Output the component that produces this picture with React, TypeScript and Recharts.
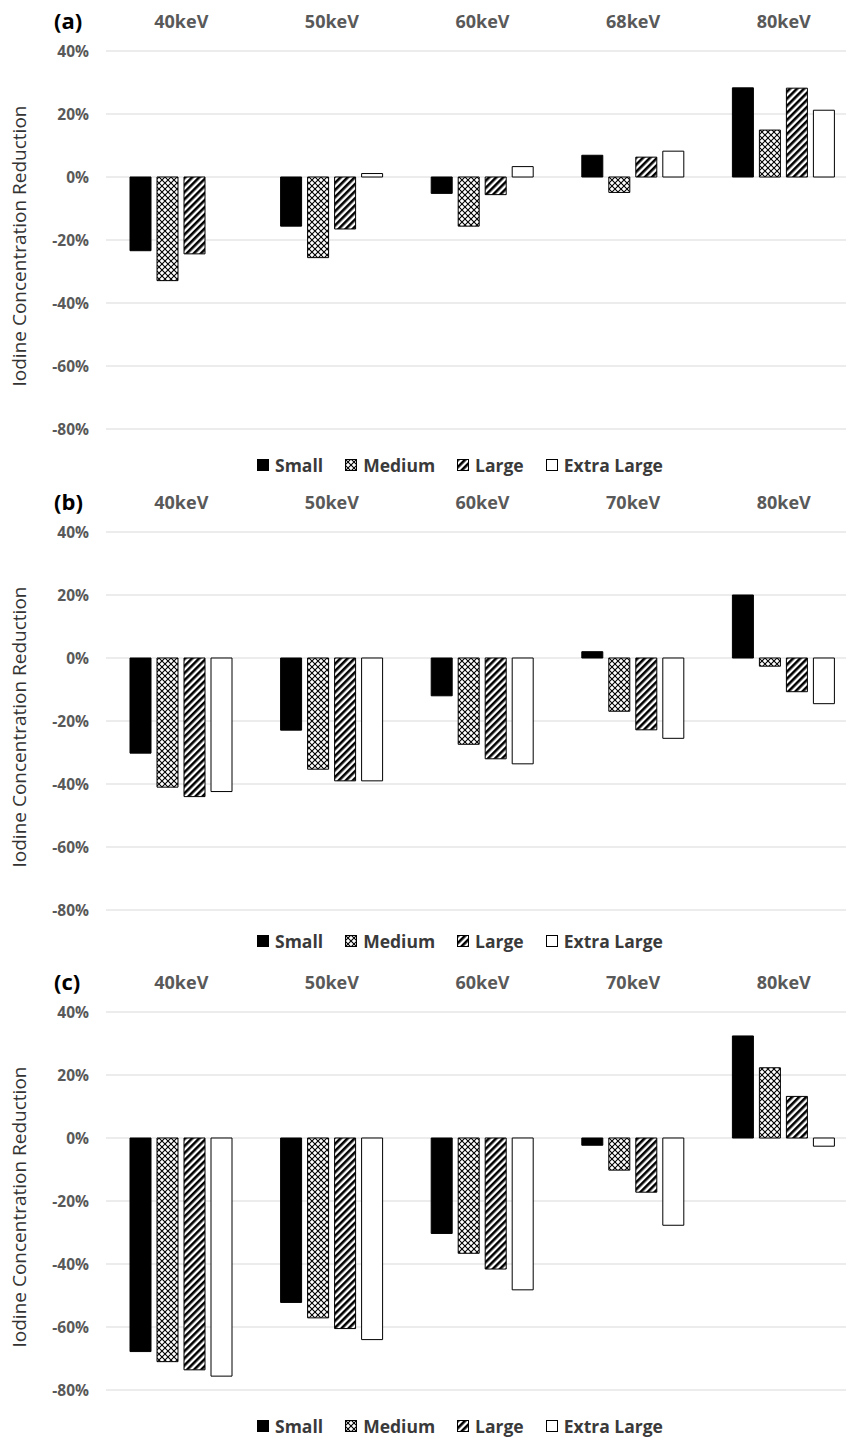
import { Bar, BarChart, CartesianGrid, XAxis, YAxis } from "recharts";

const CATEGORIES_A = ["40keV", "50keV", "60keV", "68keV", "80keV"];
const CATEGORIES_BC = ["40keV", "50keV", "60keV", "70keV", "80keV"];

const SMALL_A = [-23.4, -15.6, -5.2, 6.9, 28.3];
const MEDIUM_A = [-32.9, -25.6, -15.6, -4.9, 14.9];
const LARGE_A = [-24.4, -16.5, -5.6, 6.3, 28.2];
const XL_A = [null, 1.1, 3.3, 8.2, 21.2];

const SMALL_B = [-30.2, -22.9, -12.0, 2.0, 20.0];
const MEDIUM_B = [-41.0, -35.3, -27.4, -16.9, -2.6];
const LARGE_B = [-44.0, -39.0, -32.0, -22.8, -10.7];
const XL_B = [-42.4, -39.0, -33.6, -25.5, -14.5];

const SMALL_C = [-67.8, -52.2, -30.3, -2.3, 32.4];
const MEDIUM_C = [-71.0, -57.1, -36.6, -10.2, 22.3];
const LARGE_C = [-73.6, -60.5, -41.6, -17.2, 13.2];
const XL_C = [-75.6, -64.0, -48.2, -27.7, -2.6];

const Y_TICKS = [-80, -60, -40, -20, 0, 20, 40];
const SERIES = ["Small", "Medium", "Large", "Extra Large"];

const FONT = '"Open Sans", sans-serif';
const tickStyle = { fill: "#595959", fontSize: 15.5, fontWeight: 700, fontFamily: FONT };
const catStyle = { fill: "#595959", fontSize: 18, fontWeight: 700, fontFamily: FONT };

function Patterns({ id }: { id: string }) {
  return (
    <defs>
      <pattern id={`${id}-med`} width={6} height={6} patternUnits="userSpaceOnUse">
        <rect width={6} height={6} fill="#fff" />
        <path d="M0,0 L6,6 M6,0 L0,6" stroke="#000" strokeWidth={1.1} />
      </pattern>
      <pattern id={`${id}-lrg`} width={5} height={5} patternUnits="userSpaceOnUse" patternTransform="rotate(45)">
        <rect width={5} height={5} fill="#fff" />
        <rect width={2.6} height={5} fill="#000" />
      </pattern>
    </defs>
  );
}

function LegendRow({ id, top }: { id: string; top: number }) {
  const fills = ["#000", `url(#${id}-med)`, `url(#${id}-lrg)`, "#fff"];
  return (
    <div
      style={{
        position: "absolute",
        top,
        left: 0,
        width: 846,
        paddingLeft: 74,
        boxSizing: "border-box",
        display: "flex",
        justifyContent: "center",
        gap: 22,
        fontFamily: FONT,
        fontWeight: 700,
        fontSize: 17.5,
        lineHeight: "22px",
        color: "#3a3a3a",
      }}
    >
      {SERIES.map((s, i) => (
        <div key={s} style={{ display: "flex", alignItems: "center", gap: 6 }}>
          <svg width={12} height={12}>
            <rect x={0.5} y={0.5} width={11} height={11} fill={fills[i]} stroke="#000" strokeWidth={1} />
          </svg>
          <span>{s}</span>
        </div>
      ))}
    </div>
  );
}

function Panel({
  id,
  tag,
  top,
  legendTop,
  categories,
  small,
  medium,
  large,
  xl,
}: {
  id: string;
  tag: string;
  top: number;
  legendTop: number;
  categories: string[];
  small: (number | null)[];
  medium: (number | null)[];
  large: (number | null)[];
  xl: (number | null)[];
}) {
  const data = categories.map((c, i) => ({
    name: c,
    small: small[i],
    medium: medium[i],
    large: large[i],
    xl: xl[i],
  }));
  return (
    <div style={{ position: "absolute", top, left: 0, width: 846, height: 480 }}>
      <div
        style={{
          position: "absolute",
          left: 54,
          top: 5,
          fontFamily: FONT,
          fontWeight: 700,
          fontSize: 22,
          color: "#000",
        }}
      >
        {tag}
      </div>
      <BarChart
        width={870}
        height={480}
        data={data}
        margin={{ top: 0, right: 11, left: 0, bottom: 51 }}
        barSize={21}
        barGap={6}
      >
        <Patterns id={id} />
        <CartesianGrid vertical={false} stroke="#d9d9d9" />
        <XAxis
          dataKey="name"
          orientation="top"
          height={51}
          axisLine={false}
          tickLine={false}
          tickSize={0}
          tickMargin={23}
          interval={0}
          tick={catStyle}
        />
        <YAxis
          width={106}
          domain={[-80, 40]}
          ticks={Y_TICKS}
          tickFormatter={(v) => `${v}%`}
          axisLine={false}
          tickLine={false}
          tickSize={0}
          tickMargin={17}
          tick={tickStyle}
          label={{
            content: (props: any) => {
              const vb = props.viewBox || {};
              const cx = 19;
              const cy = (vb.y ?? 51) + (vb.height ?? 378) / 2 + 6;
              return (
                <text
                  x={cx}
                  y={cy}
                  transform={`rotate(-90 ${cx} ${cy})`}
                  textAnchor="middle"
                  dominantBaseline="central"
                  fill="#333"
                  fontSize={19}
                  fontFamily={FONT}
                >
                  Iodine Concentration Reduction
                </text>
              );
            },
          }}
        />
        <Bar dataKey="small" fill="#000" stroke="#000" strokeWidth={1} isAnimationActive={false} />
        <Bar dataKey="medium" fill={`url(#${id}-med)`} stroke="#000" strokeWidth={1} isAnimationActive={false} />
        <Bar dataKey="large" fill={`url(#${id}-lrg)`} stroke="#000" strokeWidth={1} isAnimationActive={false} />
        <Bar dataKey="xl" fill="#fff" stroke="#000" strokeWidth={1} isAnimationActive={false} />
      </BarChart>
      <LegendRow id={id} top={legendTop} />
    </div>
  );
}

export default function App() {
  // fixed so nothing can overflow the 846x1437 window
  return (
    <div
      style={{
        position: "fixed",
        top: 0,
        left: 0,
        width: 846,
        height: 1437,
        overflow: "hidden",
        background: "#fff",
      }}
    >
      <Panel id="pa" tag="(a)" top={0} legendTop={454} categories={CATEGORIES_A} small={SMALL_A} medium={MEDIUM_A} large={LARGE_A} xl={XL_A} />
      <Panel id="pb" tag="(b)" top={481} legendTop={449} categories={CATEGORIES_BC} small={SMALL_B} medium={MEDIUM_B} large={LARGE_B} xl={XL_B} />
      <Panel id="pc" tag="(c)" top={961} legendTop={454} categories={CATEGORIES_BC} small={SMALL_C} medium={MEDIUM_C} large={LARGE_C} xl={XL_C} />
    </div>
  );
}
